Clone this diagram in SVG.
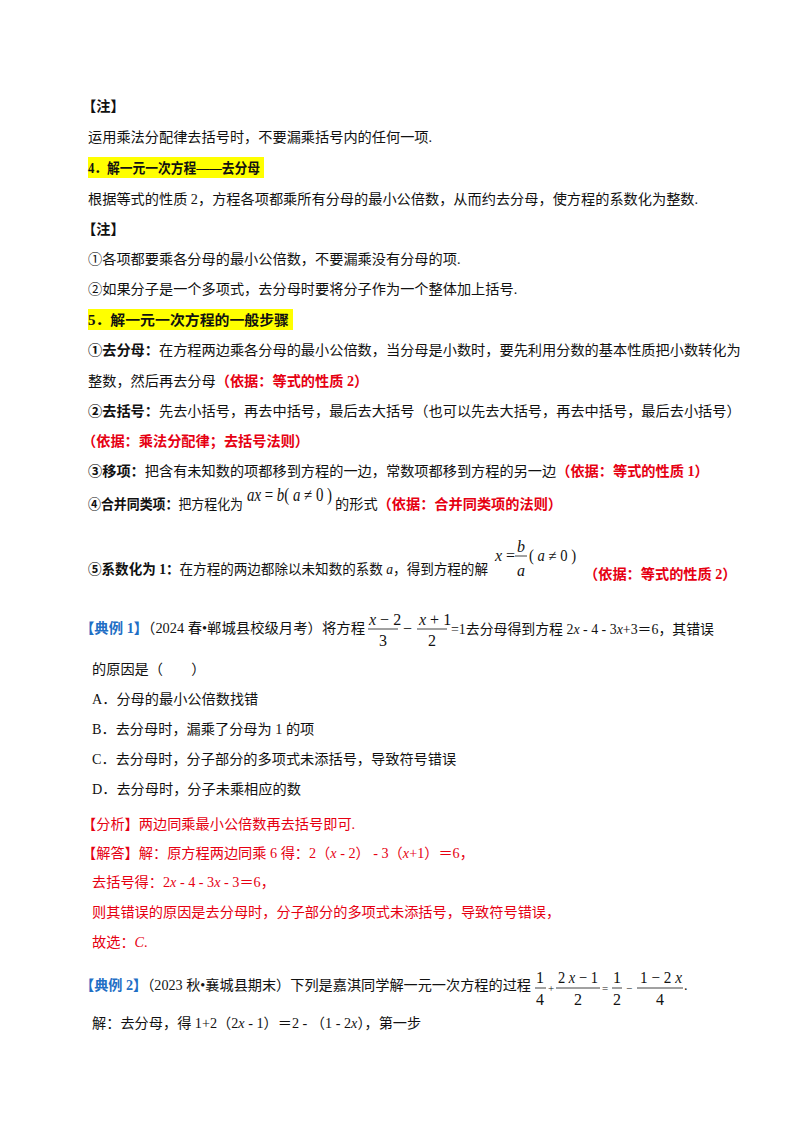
<svg xmlns="http://www.w3.org/2000/svg" width="800" height="1132" viewBox="0 0 800 1132">
<style>
text{font-family:"Liberation Serif","Noto Sans CJK SC",serif;font-size:14.2px;fill:#111}
.b{font-weight:bold}
.r{fill:#e60012;font-weight:bold}
.rn{fill:#e60012}
.bl{fill:#1f6fc5;font-weight:bold}
.i{font-style:italic}
.m{font-family:"Liberation Serif",serif;font-size:16px}
.hl{fill:#ffff00}
</style>
<rect width="800" height="1132" fill="#fff"/>
<g id="section4">
<text x="82" y="111" class="b">【注】</text>
<text x="88" y="142">运用乘法分配律去括号时，不要漏乘括号内的任何一项.</text>
<rect class="hl" x="88" y="157" width="176" height="21"/>
<text x="88" y="173" class="b" textLength="172" lengthAdjust="spacingAndGlyphs">4．解一元一次方程——去分母</text>
<text x="88" y="204">根据等式的性质 2，方程各项都乘所有分母的最小公倍数，从而约去分母，使方程的系数化为整数.</text>
<text x="82" y="234" class="b">【注】</text>
<text x="88" y="264">①各项都要乘各分母的最小公倍数，不要漏乘没有分母的项.</text>
<text x="88" y="294">②如果分子是一个多项式，去分母时要将分子作为一个整体加上括号.</text>
</g>
<g id="section5">
<rect class="hl" x="88" y="309" width="205" height="21"/>
<text x="88" y="325" class="b" textLength="201" lengthAdjust="spacingAndGlyphs">5．解一元一次方程的一般步骤</text>
<text x="88" y="355"><tspan class="b">①去分母：</tspan>在方程两边乘各分母的最小公倍数，当分母是小数时，要先利用分数的基本性质把小数转化为</text>
<text x="88" y="386">整数，然后再去分母<tspan class="r">（依据：等式的性质 2）</tspan></text>
<text x="88" y="416"><tspan class="b">②去括号：</tspan>先去小括号，再去中括号，最后去大括号（也可以先去大括号，再去中括号，最后去小括号）</text>
<text x="82" y="446" class="r">（依据：乘法分配律；去括号法则）</text>
<text x="88" y="476"><tspan class="b">③移项：</tspan>把含有未知数的项都移到方程的一边，常数项都移到方程的另一边<tspan class="r">（依据：等式的性质 1）</tspan></text>
<text x="88" y="509" textLength="155" lengthAdjust="spacingAndGlyphs"><tspan class="b">④合并同类项：</tspan>把方程化为</text>
<text x="247" y="501" class="m" style="font-size:18px" textLength="85" lengthAdjust="spacingAndGlyphs"><tspan class="i">ax</tspan> = <tspan class="i">b</tspan>( <tspan class="i">a</tspan> ≠ 0 )</text>
<text x="335" y="509">的形式<tspan class="r">（依据：合并同类项的法则）</tspan></text>
<text x="88" y="574" textLength="400" lengthAdjust="spacingAndGlyphs"><tspan class="b">⑤系数化为 1：</tspan>在方程的两边都除以未知数的系数 <tspan class="i">a</tspan>，得到方程的解</text>
<text x="495" y="561" class="m"><tspan class="i">x</tspan> =</text>
<text x="517" y="552" class="m i">b</text>
<line x1="515" y1="556" x2="527" y2="556" stroke="#111" stroke-width="0.8"/>
<text x="517" y="576" class="m i">a</text>
<text x="529" y="561" class="m" textLength="47" lengthAdjust="spacingAndGlyphs">( <tspan class="i">a</tspan> ≠ 0 )</text>
<text x="584" y="579" class="r">（依据：等式的性质 2）</text>
</g>
<g id="example1">
<text x="80" y="633" textLength="285" lengthAdjust="spacingAndGlyphs"><tspan class="bl">【典例 1】</tspan>（2024 春•郸城县校级月考）将方程</text>
<text x="369" y="625" class="m"><tspan class="i">x</tspan> − 2</text>
<line x1="368" y1="629" x2="398" y2="629" stroke="#111" stroke-width="0.8"/>
<text x="379" y="646" class="m">3</text>
<text x="403" y="634" class="m">−</text>
<text x="419" y="625" class="m"><tspan class="i">x</tspan> + 1</text>
<line x1="417" y1="629" x2="447" y2="629" stroke="#111" stroke-width="0.8"/>
<text x="428" y="646" class="m">2</text>
<text x="451" y="634" textLength="263" lengthAdjust="spacingAndGlyphs">=1去分母得到方程 2<tspan class="i">x</tspan> - 4 - 3<tspan class="i">x</tspan>+3＝6，其错误</text>
<text x="92" y="674">的原因是（　　）</text>
<text x="92" y="704">A．分母的最小公倍数找错</text>
<text x="92" y="734">B．去分母时，漏乘了分母为 1 的项</text>
<text x="92" y="764">C．去分母时，分子部分的多项式未添括号，导致符号错误</text>
<text x="92" y="794">D．去分母时，分子未乘相应的数</text>
<text x="82" y="829" class="rn">【分析】两边同乘最小公倍数再去括号即可.</text>
<text x="82" y="858" class="rn">【解答】解：原方程两边同乘 6 得：2（<tspan class="i">x</tspan> - 2） - 3（<tspan class="i">x</tspan>+1）＝6，</text>
<text x="92" y="887" class="rn">去括号得：2<tspan class="i">x</tspan> - 4 - 3<tspan class="i">x</tspan> - 3＝6，</text>
<text x="92" y="917" class="rn">则其错误的原因是去分母时，分子部分的多项式未添括号，导致符号错误，</text>
<text x="92" y="947" class="rn">故选：<tspan class="i">C</tspan>.</text>
</g>
<g id="example2">
<text x="80" y="990" textLength="451" lengthAdjust="spacingAndGlyphs"><tspan class="bl">【典例 2】</tspan>（2023 秋•襄城县期末）下列是嘉淇同学解一元一次方程的过程</text>
<text x="536" y="983" class="m">1</text>
<line x1="535" y1="988" x2="546" y2="988" stroke="#111" stroke-width="0.8"/>
<text x="536" y="1005" class="m">4</text>
<text x="548" y="992" class="m" style="font-size:11px">+</text>
<text x="558" y="983" class="m" textLength="40" lengthAdjust="spacingAndGlyphs">2 <tspan class="i">x</tspan> − 1</text>
<line x1="556" y1="988" x2="600" y2="988" stroke="#111" stroke-width="0.8"/>
<text x="574" y="1005" class="m">2</text>
<text x="602" y="992" class="m" style="font-size:11px">=</text>
<text x="613" y="983" class="m">1</text>
<line x1="612" y1="988" x2="622" y2="988" stroke="#111" stroke-width="0.8"/>
<text x="613" y="1005" class="m">2</text>
<text x="626" y="992" class="m" style="font-size:11px">−</text>
<text x="640" y="983" class="m" textLength="42" lengthAdjust="spacingAndGlyphs">1 − 2 <tspan class="i">x</tspan></text>
<line x1="637" y1="988" x2="683" y2="988" stroke="#111" stroke-width="0.8"/>
<text x="656" y="1005" class="m">4</text>
<text x="684" y="990">.</text>
<text x="92" y="1028">解：去分母，得 1+2（2<tspan class="i">x</tspan> - 1）＝2 - （1 - 2<tspan class="i">x</tspan>），第一步</text>
</g>
</svg>
